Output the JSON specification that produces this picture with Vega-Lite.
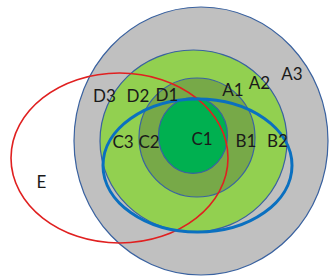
{
  "$schema": "https://vega.github.io/schema/vega-lite/v6.json",
  "width": 329,
  "height": 278,
  "autosize": {"type": "none"},
  "padding": 0,
  "background": "white",
  "config": {"view": {"stroke": null}},
  "datasets": {
    "shapes": [
      {"name": "A3", "cx": 201, "cy": 141, "rx": 127, "kind": "fill"},
      {"name": "A2", "cx": 193.5, "cy": 141, "rx": 93.5, "kind": "fill"},
      {"name": "A1", "cx": 197, "cy": 137.5, "rx": 58, "kind": "fill"},
      {"name": "C1", "cx": 193, "cy": 135.5, "rx": 34.5, "kind": "fill"}
    ],
    "outlines": [
      {"name": "E", "cx": 119.5, "cy": 158, "rx": 108.5},
      {"name": "B", "cx": 197.5, "cy": 165.5, "rx": 94.5}
    ],
    "labels": [
      {"t": "D3", "x": 104.5, "y": 97},
      {"t": "D2", "x": 138, "y": 97},
      {"t": "D1", "x": 167, "y": 96},
      {"t": "A1", "x": 233, "y": 91},
      {"t": "A2", "x": 259.5, "y": 84},
      {"t": "A3", "x": 292, "y": 75},
      {"t": "C3", "x": 123, "y": 142.5},
      {"t": "C2", "x": 149, "y": 142.5},
      {"t": "C1", "x": 202, "y": 140},
      {"t": "B1", "x": 246, "y": 142},
      {"t": "B2", "x": 277.5, "y": 142},
      {"t": "E", "x": 41.5, "y": 182.5}
    ]
  },
  "layer": [
    {
      "data": {"name": "shapes"},
      "mark": {"type": "point", "filled": true, "fillOpacity": 1, "stroke": "#3a62a0", "strokeWidth": 1.2, "opacity": 1},
      "encoding": {
        "x": {"field": "cx", "type": "quantitative", "scale": {"domain": [0, 329], "nice": false, "zero": false}, "axis": null},
        "y": {"field": "cy", "type": "quantitative", "scale": {"domain": [0, 278], "nice": false, "zero": false, "reverse": true}, "axis": null},
        "size": {"field": "rx", "type": "quantitative", "scale": {"type": "pow", "exponent": 2, "domain": [0, 100], "range": [0, 40000]}, "legend": null},
        "shape": {"field": "name", "type": "nominal", "scale": {"domain": ["A3", "A2", "A1", "C1", "E", "B"], "range": [
          "M-1,0A1,1.055 0 1,0 1,0A1,1.055 0 1,0 -1,0Z",
          "M-1,0A1,0.973 0 1,0 1,0A1,0.973 0 1,0 -1,0Z",
          "M-1,0A1,1.026 0 1,0 1,0A1,1.026 0 1,0 -1,0Z",
          "M-1,0A1,1.1 0 1,0 1,0A1,1.1 0 1,0 -1,0Z",
          "M-1,0A1,0.783 0 1,0 1,0A1,0.783 0 1,0 -1,0Z",
          "M-1,0A1,0.704 0 1,0 1,0A1,0.704 0 1,0 -1,0Z"
        ]}, "legend": null},
        "fill": {"field": "name", "type": "nominal", "scale": {"domain": ["A3", "A2", "A1", "C1"], "range": ["#c0c0c0", "#92d050", "#77a948", "#00b050"]}, "legend": null}
      }
    },
    {
      "data": {"name": "outlines"},
      "mark": {"type": "point", "filled": false, "fill": null, "opacity": 1},
      "encoding": {
        "x": {"field": "cx", "type": "quantitative"},
        "y": {"field": "cy", "type": "quantitative"},
        "size": {"field": "rx", "type": "quantitative", "legend": null},
        "shape": {"field": "name", "type": "nominal", "legend": null},
        "stroke": {"field": "name", "type": "nominal", "scale": {"domain": ["E", "B"], "range": ["#e02020", "#0a70c0"]}, "legend": null},
        "strokeWidth": {"field": "name", "type": "nominal", "scale": {"domain": ["E", "B"], "range": [1.6, 3]}, "legend": null}
      }
    },
    {
      "data": {"name": "labels"},
      "mark": {"type": "text", "font": "Lato", "fontSize": 17, "color": "#1a1a1a", "align": "center", "baseline": "middle"},
      "encoding": {
        "x": {"field": "x", "type": "quantitative"},
        "y": {"field": "y", "type": "quantitative"},
        "text": {"field": "t", "type": "nominal"}
      }
    }
  ]
}
